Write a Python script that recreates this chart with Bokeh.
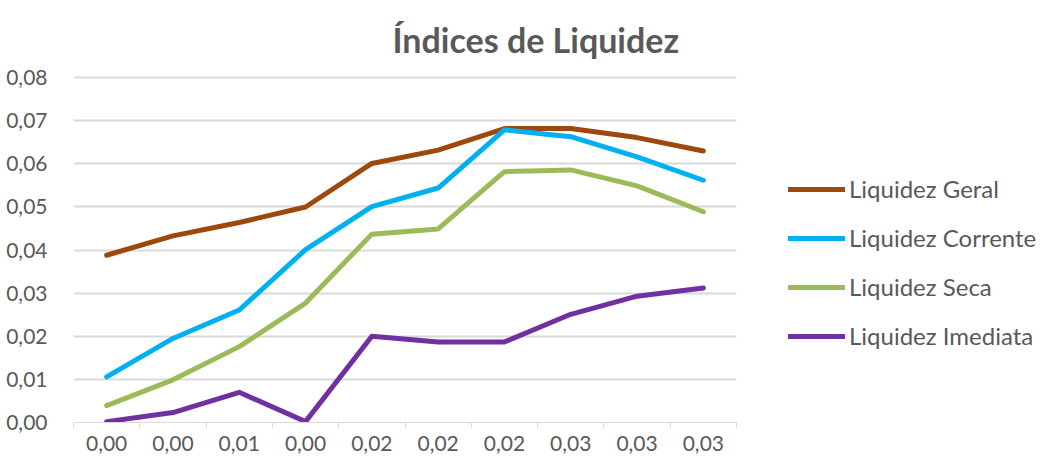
from bokeh.plotting import figure
from bokeh.models import FixedTicker, Range1d, Legend, LegendItem
from bokeh.embed import file_html
from bokeh.resources import INLINE

title_text = "Índices de Liquidez"
x_labels = ["0,00", "0,00", "0,01", "0,00", "0,02", "0,02", "0,02", "0,03", "0,03", "0,03"]
y_ticks = [0.0, 0.01, 0.02, 0.03, 0.04, 0.05, 0.06, 0.07, 0.08]
y_tick_labels = ["0,00", "0,01", "0,02", "0,03", "0,04", "0,05", "0,06", "0,07", "0,08"]

series_names = ["Liquidez Geral", "Liquidez Corrente", "Liquidez Seca", "Liquidez Imediata"]
geral = [0.0388, 0.0433, 0.0464, 0.0500, 0.0601, 0.0632, 0.0682, 0.0682, 0.0661, 0.0630]
corrente = [0.0106, 0.0195, 0.0261, 0.0401, 0.0501, 0.0544, 0.0679, 0.0663, 0.0616, 0.0562]
seca = [0.0039, 0.0099, 0.0176, 0.0277, 0.0437, 0.0449, 0.0582, 0.0586, 0.0549, 0.0489]
imediata = [0.0002, 0.0023, 0.0070, 0.0002, 0.0200, 0.0187, 0.0187, 0.0251, 0.0293, 0.0312]
colors = ["#9E480E", "#00B0F0", "#9BBB59", "#7030A0"]

FONT = "Lato"
GREY = "#595959"

n = len(x_labels)
xs = [i + 0.5 for i in range(n)]

p = figure(frame_width=663, frame_height=350, output_backend="svg", toolbar_location=None,
           x_range=Range1d(0, n), y_range=Range1d(0, 0.0812),
           min_border_left=73, min_border_right=0, min_border_top=72, min_border_bottom=33)
p.outline_line_color = None
p.background_fill_color = "white"
p.border_fill_color = "white"

renderers = []
for vals, c in zip([geral, corrente, seca, imediata], colors):
    r = p.line(xs, vals, line_color=c, line_width=5, line_cap="round", line_join="round")
    renderers.append(r)

# title
p.title.text = title_text
p.title.align = "left"
p.title.offset = 319
p.title.text_font = FONT
p.title.text_font_size = "34px"
p.title.text_font_style = "bold"
p.title.text_color = GREY
p.title.standoff = 26

# x axis
p.xaxis.ticker = FixedTicker(ticks=xs, minor_ticks=list(range(n + 1)))
p.xaxis.major_label_overrides = {x: l for x, l in zip(xs, x_labels)}
p.xaxis.major_tick_line_color = None
p.xaxis.minor_tick_out = 6
p.xaxis.minor_tick_in = 0
p.xaxis.minor_tick_line_color = "#D9D9D9"
p.xaxis.minor_tick_line_width = 1
p.xaxis.axis_line_color = "#D9D9D9"
p.xaxis.axis_line_width = 1
p.xaxis.major_label_text_font = FONT
p.xaxis.major_label_text_font_size = "21px"
p.xaxis.major_label_text_color = GREY
p.xaxis.major_label_standoff = 7

# y axis
p.yaxis.ticker = FixedTicker(ticks=y_ticks)
p.yaxis.major_label_overrides = {t: l for t, l in zip(y_ticks, y_tick_labels)}
p.yaxis.axis_line_color = None
p.yaxis.major_tick_line_color = None
p.yaxis.minor_tick_line_color = None
p.yaxis.major_label_text_font = FONT
p.yaxis.major_label_text_font_size = "21px"
p.yaxis.major_label_text_color = GREY
p.yaxis.major_label_standoff = 20

p.xgrid.grid_line_color = None
p.ygrid.ticker = FixedTicker(ticks=y_ticks)
p.ygrid.grid_line_color = "#D9D9D9"
p.ygrid.grid_line_width = 2

legend = Legend(items=[LegendItem(label=nm, renderers=[r]) for nm, r in zip(series_names, renderers)],
                location=(52, 72), orientation="vertical",
                glyph_width=57, glyph_height=24, label_height=24, label_standoff=4,
                spacing=20, padding=0, margin=0, border_line_color=None,
                background_fill_alpha=0,
                label_text_font=FONT, label_text_font_size="24px", label_text_color=GREY)
p.add_layout(legend, "right")

open("out.html", "w").write(file_html(p, INLINE))
